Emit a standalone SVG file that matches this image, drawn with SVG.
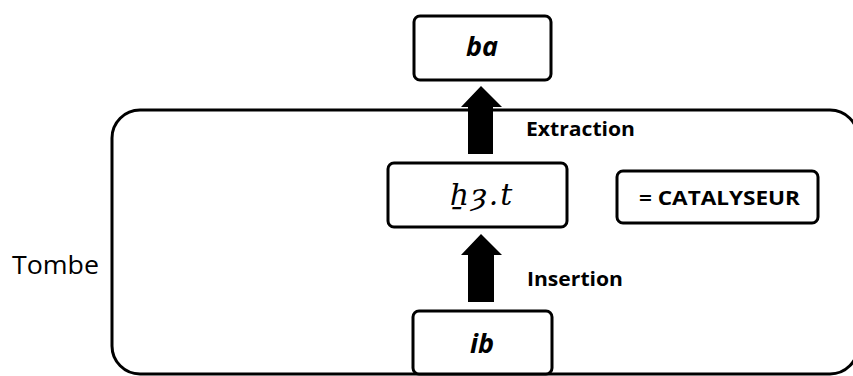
<svg xmlns="http://www.w3.org/2000/svg" width="853" height="376" viewBox="0 0 853 376">
<style>
.box{fill:#fff;stroke:#000;stroke-width:3}
.frame{fill:none;stroke:#000;stroke-width:3}
.it{font-family:"Open Sans","Liberation Sans",sans-serif;font-weight:bold;font-style:italic;font-size:27px;fill:#000;text-anchor:middle}
.lbl{font-family:"Open Sans","Liberation Sans",sans-serif;font-weight:bold;font-size:20px;fill:#000}
.arr{fill:#000}
</style>
<rect class="frame" x="112" y="110" width="746" height="264" rx="28"/>
<g id="tombe"><text x="12" y="274" style="font-family:'Open Sans','Liberation Sans',sans-serif;font-size:26px;fill:#000" textLength="87" lengthAdjust="spacingAndGlyphs">Tombe</text></g>
<g id="ba"><rect class="box" x="414" y="16" width="137" height="64" rx="6"/><text class="it" x="482" y="56">ba</text></g>
<g id="h3t"><rect class="box" x="388" y="163" width="179" height="64" rx="6"/><text x="482" y="205" style="font-family:'DejaVu Serif','Liberation Serif',serif;font-style:italic;font-size:30px;fill:#000;text-anchor:middle;letter-spacing:2px">ẖȝ.t</text></g>
<g id="catalyseur"><rect class="box" x="617" y="171" width="201" height="52" rx="6"/><text class="lbl" x="639" y="205" textLength="161" lengthAdjust="spacingAndGlyphs">= CATALYSEUR</text></g>
<g id="ib"><rect class="box" x="413" y="311" width="139" height="63" rx="6"/><text class="it" x="482" y="353">ib</text></g>
<g id="connectors">
<path class="arr" d="M481,86 L502,107 L493,107 L493,154 L468,154 L468,107 L461,107 Z"/>
<path class="arr" d="M481,234 L502,255 L494,255 L494,302 L468,302 L468,255 L461,255 Z"/>
<text class="lbl" x="526" y="136" textLength="109" lengthAdjust="spacingAndGlyphs">Extraction</text>
<text class="lbl" x="527" y="286" textLength="96" lengthAdjust="spacingAndGlyphs">Insertion</text>
</g>
</svg>
